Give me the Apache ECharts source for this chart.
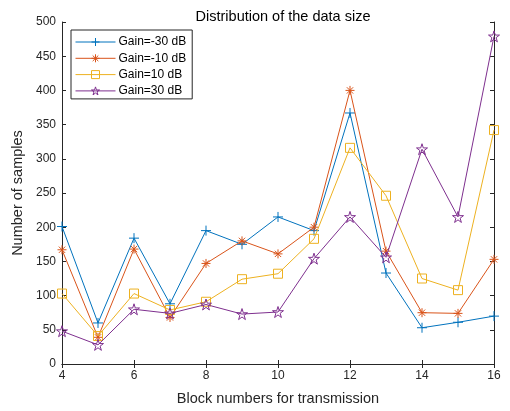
<!DOCTYPE html>
<html><head><meta charset="utf-8">
<script src="https://cdn.jsdelivr.net/npm/echarts@6/dist/echarts.min.js"></script>
<style>html,body{margin:0;padding:0;background:#fff}#c{width:510px;height:411px}</style>
</head><body><div id="c"></div>
<script>
const blocks = [4,5,6,7,8,9,10,11,12,13,14,15,16];
const gainM30 = [201,60,184,88,195,175,215,195,367,133,53,61,70];
const gainM10 = [167,39,168,68,147,180,161,200,400,165,75,74,153];
const gain10  = [103,41,103,79,91,124,132,183,316,246,125,108,342];
const gain30  = [48,28,80,74,87,73,76,154,215,156,314,215,479];
const seriesNames = ['Gain=-30 dB','Gain=-10 dB','Gain=10 dB','Gain=30 dB'];
const colors = ['#0072BD','#D95319','#EDB120','#7E2F8E'];

const plus = 'path://M5,0V10M0,5H10';
const aster = 'path://M5,0V10M0,5H10M1.5,1.5L8.5,8.5M8.5,1.5L1.5,8.5';
const square = 'path://M0,0H10V10H0Z';
const star = 'path://M5,0L6.123,3.455L9.755,3.455L6.817,5.59L7.939,9.045L5,6.91L2.061,9.045L3.183,5.59L0.245,3.455L3.877,3.455Z';
const symbols = [plus, aster, square, star];
const sizes = [10,9,9,11];
const all = [gainM30, gainM10, gain10, gain30];

const axisColor = '#262626';
const font = 'Liberation Sans, Arial, sans-serif';
const chart = echarts.init(document.getElementById('c'));
chart.setOption({
  animation: false,
  title: {text: 'Distribution of the data size', left: 278, textAlign: 'center', top: 4,
    textStyle: {fontSize: 14.5, fontWeight: 'normal', color: '#000', fontFamily: font}},
  legend: {
    orient: 'vertical', left: 71, top: 30, itemWidth: 40, itemHeight: 10, itemGap: 4.3,
    padding: [6, 6, 2, 4], borderColor: '#262626', borderWidth: 1, backgroundColor: '#fff',
    textStyle: {fontSize: 12, color: '#000', fontFamily: font, padding: [0,0,0,-2]},
    data: seriesNames.map((n, i) => ({
      name: n,
      itemStyle: {color: 'rgba(0,0,0,0)', borderColor: colors[i], borderWidth: 1},
      lineStyle: {width: 1, color: colors[i]}
    }))
  },
  grid: {left: 62, right: 16, top: 22, bottom: 45},
  xAxis: [{
    type: 'value', min: 4, max: 16, interval: 2, name: 'Block numbers for transmission',
    nameLocation: 'middle', nameGap: 27,
    nameTextStyle: {fontSize: 14.5, color: axisColor, fontFamily: font},
    axisLine: {lineStyle: {color: axisColor}}, axisTick: {inside: true, length: 4, lineStyle: {color: axisColor}},
    axisLabel: {fontSize: 12, color: axisColor, fontFamily: font, margin: 6},
    splitLine: {show: false}
  }, {
    type: 'value', position: 'top', min: 4, max: 16, interval: 2,
    axisLine: {lineStyle: {color: axisColor}}, axisTick: {inside: true, length: 4, lineStyle: {color: axisColor}},
    axisLabel: {show: false}, splitLine: {show: false}
  }],
  yAxis: [{
    type: 'value', min: 0, max: 500, interval: 50, name: 'Number of samples',
    nameLocation: 'middle', nameGap: 35,
    nameTextStyle: {fontSize: 14.5, color: axisColor, fontFamily: font},
    axisLine: {show: true, lineStyle: {color: axisColor}}, axisTick: {show: true, inside: true, length: 4, lineStyle: {color: axisColor}},
    axisLabel: {fontSize: 12, color: axisColor, fontFamily: font, margin: 6},
    splitLine: {show: false}
  }, {
    type: 'value', position: 'right', min: 0, max: 500, interval: 50,
    axisLine: {show: true, lineStyle: {color: axisColor}}, axisTick: {show: true, inside: true, length: 4, lineStyle: {color: axisColor}},
    axisLabel: {show: false}, splitLine: {show: false}
  }],
  series: all.map((arr, i) => ({
    name: seriesNames[i], type: 'line', color: colors[i],
    data: blocks.map((b, j) => [b, arr[j]]),
    symbol: symbols[i], symbolSize: sizes[i], showAllSymbol: true,
    lineStyle: {width: 1, color: colors[i]},
    itemStyle: {color: 'rgba(0,0,0,0)', borderColor: colors[i], borderWidth: 1},
    emphasis: {disabled: true}, z: 2 + i
  }))
});
</script></body></html>
